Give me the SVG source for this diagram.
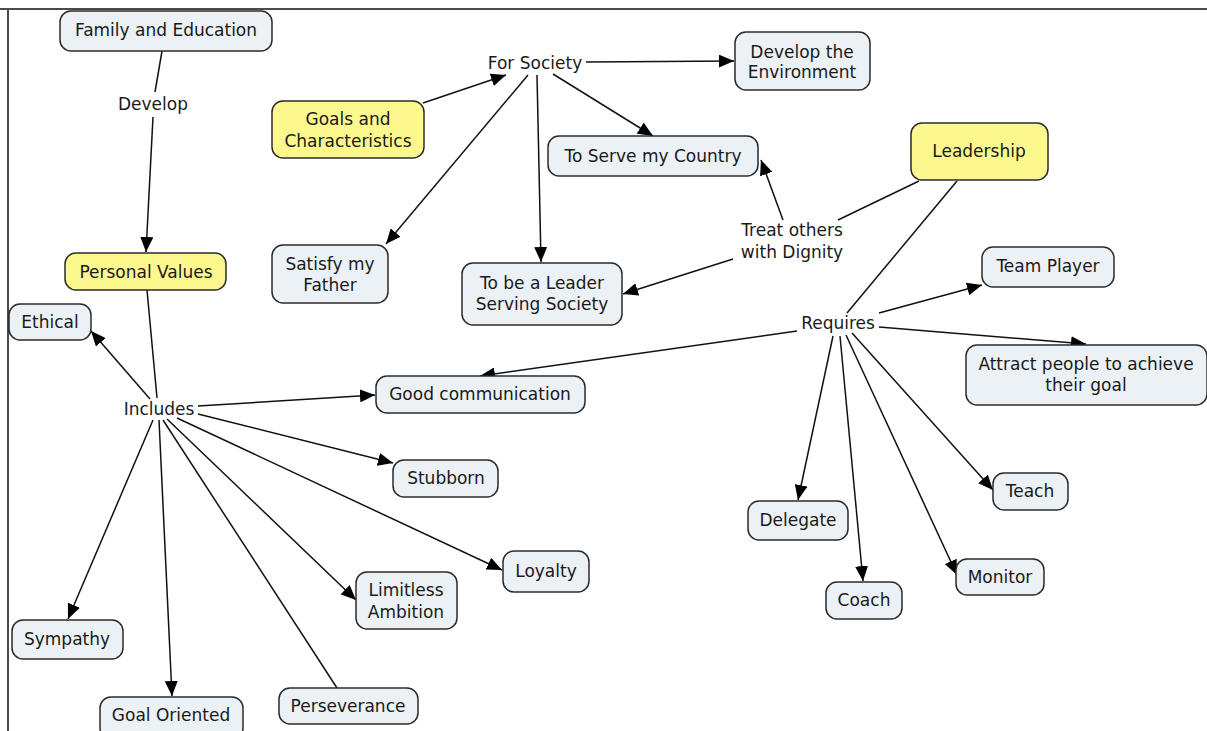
<svg xmlns="http://www.w3.org/2000/svg" width="1207" height="731" viewBox="0 0 1207 731">
  <style>
    .box { fill: #ebf1f4; stroke: #2b2b2b; stroke-width: 1.5; }
    .key { fill: #fcf88e; stroke: #2b2b2b; stroke-width: 1.5; }
    text { font-family: "DejaVu Sans", Verdana, sans-serif; font-size: 17px; fill: #1a1a1a; text-anchor: middle; }
    .link { fill: none; stroke: #111; stroke-width: 1.5; }
    .arrow { fill: none; stroke: #111; stroke-width: 1.5; marker-end: url(#head); }
    .frame { stroke: #4a4a4a; stroke-width: 2; }
  </style>
  <defs>
    <marker id="head" viewBox="0 0 15 13" refX="15" refY="6.5" markerWidth="15" markerHeight="13" markerUnits="userSpaceOnUse" orient="auto">
      <path d="M0,0 L15,6.5 L0,13 z" fill="#000"/>
    </marker>
  </defs>
  <rect width="1207" height="731" fill="#fff"/>
  <line class="frame" x1="0" y1="9" x2="1207" y2="9"/>
  <line class="frame" x1="8" y1="9" x2="8" y2="731"/>

  <g id="connectors">
    <!-- Family and Education / Develop / Personal Values -->
    <line class="link" x1="162" y1="51" x2="155" y2="92"/>
    <line class="arrow" x1="153" y1="117" x2="146" y2="252"/>
    <!-- For Society branch -->
    <line class="arrow" x1="423" y1="103" x2="506" y2="75"/>
    <line class="arrow" x1="586" y1="62" x2="734" y2="61"/>
    <line class="arrow" x1="553" y1="74" x2="653" y2="136"/>
    <line class="arrow" x1="528" y1="75" x2="386" y2="244"/>
    <line class="arrow" x1="537" y1="75" x2="541" y2="262"/>
    <!-- Leadership / Treat others with Dignity -->
    <line class="link" x1="919" y1="181" x2="838" y2="220"/>
    <line class="arrow" x1="783" y1="220" x2="761" y2="160"/>
    <line class="arrow" x1="733" y1="259" x2="623" y2="294"/>
    <!-- Leadership / Requires -->
    <line class="link" x1="957" y1="181" x2="847" y2="313"/>
    <line class="arrow" x1="879" y1="313" x2="982" y2="285"/>
    <line class="arrow" x1="879" y1="327" x2="1086" y2="344"/>
    <line class="arrow" x1="797" y1="331" x2="480" y2="376"/>
    <line class="arrow" x1="833" y1="336" x2="798" y2="500"/>
    <line class="arrow" x1="840" y1="336" x2="863" y2="581"/>
    <line class="arrow" x1="846" y1="335" x2="957" y2="575"/>
    <line class="arrow" x1="852" y1="333" x2="993" y2="490"/>
    <!-- Personal Values / Includes -->
    <line class="link" x1="147" y1="290" x2="157" y2="398"/>
    <line class="arrow" x1="150" y1="399" x2="91" y2="331"/>
    <line class="arrow" x1="198" y1="406" x2="375" y2="395"/>
    <line class="arrow" x1="198" y1="414" x2="393" y2="463"/>
    <line class="arrow" x1="177" y1="418" x2="502" y2="570"/>
    <line class="arrow" x1="167" y1="419" x2="356" y2="600"/>
    <line class="link" x1="163" y1="420" x2="337" y2="688"/>
    <line class="arrow" x1="159" y1="420" x2="172" y2="696"/>
    <line class="arrow" x1="153" y1="420" x2="68" y2="619"/>
  </g>

  <g id="family-education"><rect class="box" x="60" y="11" width="212" height="40" rx="11"/><text x="166" y="36">Family and Education</text></g>
  <g id="develop-label"><text x="153" y="110">Develop</text></g>
  <g id="goals-characteristics"><rect class="key" x="272" y="101" width="152" height="57" rx="11"/><text x="348" y="125">Goals and</text><text x="348" y="147">Characteristics</text></g>
  <g id="personal-values"><rect class="key" x="65" y="253" width="161" height="37" rx="11"/><text x="146" y="278">Personal Values</text></g>
  <g id="ethical"><rect class="box" x="9" y="304" width="82" height="36" rx="11"/><text x="50" y="328">Ethical</text></g>
  <g id="includes-label"><text x="159" y="415">Includes</text></g>
  <g id="for-society-label"><text x="535" y="69">For Society</text></g>
  <g id="develop-environment"><rect class="box" x="735" y="32" width="135" height="58" rx="11"/><text x="802" y="58">Develop the</text><text x="802" y="78">Environment</text></g>
  <g id="serve-country"><rect class="box" x="548" y="136" width="210" height="40" rx="11"/><text x="653" y="162">To Serve my Country</text></g>
  <g id="leadership"><rect class="key" x="911" y="123" width="137" height="57" rx="11"/><text x="979" y="157">Leadership</text></g>
  <g id="team-player"><rect class="box" x="982" y="247" width="132" height="40" rx="11"/><text x="1048" y="272">Team Player</text></g>
  <g id="attract-people"><rect class="box" x="966" y="345" width="241" height="60" rx="11"/><text x="1086" y="370">Attract people to achieve</text><text x="1086" y="391">their goal</text></g>
  <g id="satisfy-father"><rect class="box" x="272" y="245" width="116" height="58" rx="11"/><text x="330" y="270">Satisfy my</text><text x="330" y="291">Father</text></g>
  <g id="leader-serving-society"><rect class="box" x="462" y="263" width="160" height="62" rx="11"/><text x="542" y="289">To be a Leader</text><text x="542" y="310">Serving Society</text></g>
  <g id="treat-others-label"><text x="792" y="236">Treat others</text><text x="792" y="258">with Dignity</text></g>
  <g id="requires-label"><text x="838" y="329">Requires</text></g>
  <g id="good-communication"><rect class="box" x="376" y="376" width="209" height="37" rx="11"/><text x="480" y="400">Good communication</text></g>
  <g id="stubborn"><rect class="box" x="393" y="460" width="105" height="37" rx="11"/><text x="446" y="484">Stubborn</text></g>
  <g id="limitless-ambition"><rect class="box" x="356" y="572" width="101" height="57" rx="11"/><text x="406" y="596">Limitless</text><text x="406" y="618">Ambition</text></g>
  <g id="loyalty"><rect class="box" x="503" y="551" width="86" height="41" rx="11"/><text x="546" y="577">Loyalty</text></g>
  <g id="sympathy"><rect class="box" x="12" y="620" width="111" height="39" rx="11"/><text x="67" y="645">Sympathy</text></g>
  <g id="goal-oriented"><rect class="box" x="100" y="697" width="143" height="42" rx="11"/><text x="171" y="721">Goal Oriented</text></g>
  <g id="perseverance"><rect class="box" x="279" y="688" width="139" height="36" rx="11"/><text x="348" y="712">Perseverance</text></g>
  <g id="delegate"><rect class="box" x="748" y="501" width="100" height="39" rx="11"/><text x="798" y="526">Delegate</text></g>
  <g id="coach"><rect class="box" x="826" y="582" width="76" height="37" rx="11"/><text x="864" y="606">Coach</text></g>
  <g id="monitor"><rect class="box" x="956" y="559" width="88" height="36" rx="11"/><text x="1000" y="583">Monitor</text></g>
  <g id="teach"><rect class="box" x="993" y="473" width="75" height="37" rx="11"/><text x="1030" y="497">Teach</text></g>
</svg>
